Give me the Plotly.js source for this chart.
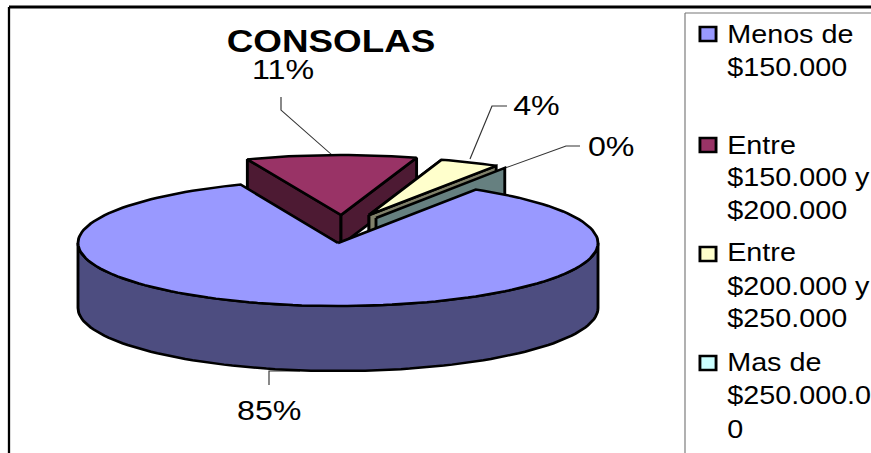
<!DOCTYPE html>
<html>
<head>
<meta charset="utf-8">
<script src="https://cdn.plot.ly/plotly-3.0.1.min.js"></script>
<style>
  html, body { margin: 0; padding: 0; background: #fff; overflow: hidden; }
  /* The whole drawing is widened a little, text included */
  #chart { width: 757px; height: 453px; transform: scaleX(1.1506); transform-origin: 0 0; }
</style>
</head>
<body>
<div id="chart"></div>
<script>
// Price bands and their share of console sales, in percent
const categories = ["Menos de $150.000", "Entre $150.000 y $200.000", "Entre $200.000 y $250.000", "Mas de $250.000.00"];
const shares = [85, 11, 4, 0];
const legendLines = [["Menos de", "$150.000"], ["Entre", "$150.000 y", "$200.000"], ["Entre", "$200.000 y", "$250.000"], ["Mas de", "$250.000.0", "0"]];
const topColours = ["#9999ff", "#993366", "#ffffcc", "#ccffff"];
const wallColours = ["#4d4d80", "#4d1a33", "#80806a", "#668080"];

const FONT = '"Liberation Sans", Arial, sans-serif';
const START_ANGLE = 32;   // first slice begins this many degrees clockwise from the back

// Where each slice sits once pulled out of the pie
const placement = [
  { cx: 338, cy: 243, rx: 260, ry: 63, depth: 65 },
  { cx: 341, cy: 215, rx: 250, ry: 60, depth: 30 },
  { cx: 369, cy: 215, rx: 240, ry: 58, depth: 30 },
  { cx: 376, cy: 218, rx: 243, ry: 59, depth: 30 }
];

// Slice boundaries in degrees, accumulated from the shares
const total = shares.reduce((a, b) => a + b, 0);
let running = START_ANGLE;
const spans = shares.map(s => {
  const from = running;
  running += s / total * 360;
  return [from, running];
});

function rimPoint(p, deg, drop) {
  const t = deg * Math.PI / 180;
  return [p.cx + p.rx * Math.sin(t), p.cy - p.ry * Math.cos(t) + (drop || 0)];
}
function arc(p, a, b, drop) {
  const n = Math.max(2, Math.ceil(Math.abs(b - a) / 2));
  const out = [];
  for (let i = 0; i <= n; i++) out.push(rimPoint(p, a + (b - a) * i / n, drop));
  return out;
}
function polygon(points, fill) {
  const pts = points.concat([points[0]]);
  return {
    type: "scatter", mode: "lines", x: pts.map(q => q[0]), y: pts.map(q => q[1]),
    fill: "toself", fillcolor: fill, line: { color: "#000", width: 2.5 },
    hoverinfo: "skip", showlegend: false
  };
}
function topFace(i) {
  const p = placement[i];
  return polygon([[p.cx, p.cy]].concat(arc(p, spans[i][0], spans[i][1])), topColours[i]);
}
function cutWall(i, deg) {
  const p = placement[i];
  const rim = rimPoint(p, deg), low = rimPoint(p, deg, p.depth);
  return polygon([[p.cx, p.cy], rim, low, [p.cx, p.cy + p.depth]], wallColours[i]);
}
function frontWall(i, a, b) {
  const p = placement[i];
  return polygon(arc(p, a, b).concat(arc(p, b, a, p.depth)), wallColours[i]);
}

// Painted back to front
const traces = [
  cutWall(1, spans[1][0]), cutWall(1, spans[1][1]), topFace(1),
  cutWall(2, spans[2][0]), cutWall(2, spans[2][1]),
  cutWall(3, spans[3][1]), topFace(2),
  frontWall(0, 90, 270), topFace(0)
];

// Legend keys
const keyY = [34, 145, 254, 363];
traces.push({
  type: "scatter", mode: "markers", x: keyY.map(() => 708), y: keyY,
  marker: { symbol: "square", size: 14, color: topColours, line: { color: "#000", width: 2.5 } },
  text: categories, hoverinfo: "text", showlegend: false
});

const annotations = [];
function label(text, x, y, size, anchor, bold) {
  annotations.push({
    x, y, xref: "x", yref: "y", text: bold ? "<b>" + text + "</b>" : text, showarrow: false,
    xanchor: anchor, yanchor: "middle", font: { family: FONT, size, color: "#000" }
  });
}
label("CONSOLAS", 331, 41, 32, "center", true);
const labelSpots = [[269, 410], [283, 69], [536, 105], [611, 146]];
shares.forEach((s, i) => label(s + "%", labelSpots[i][0], labelSpots[i][1], 28, "center"));
const lineY = [[34, 67], [145, 177, 210], [252, 286, 318], [362, 395, 429]];
legendLines.forEach((lines, i) => lines.forEach((t, j) => label(t, 725, lineY[i][j], 25, "left")));

// Leader lines from the labels to the slices
const leaders = [
  [[269, 385], [269, 371], [300, 371]],
  [[281, 97], [281, 110], [332, 155]],
  [[507, 106], [492, 106], [470, 159]],
  [[580, 146], [566, 146], [505, 168]]
];
const shapes = leaders.map(l => ({
  type: "path", xref: "x", yref: "y", layer: "below",
  path: "M" + l.map(q => q.join(",")).join("L"),
  line: { color: "#333", width: 1 }
}));
const frame = (x0, y0, x1, y1, color, width) => ({ type: "line", xref: "x", yref: "y", x0, y0, x1, y1, line: { color, width } });
shapes.push(frame(9, 7, 871, 7, "#000", 3));
shapes.push(frame(9, 7, 9, 453, "#000", 2));
shapes.push(frame(685, 13, 871, 13, "#777", 1));
shapes.push(frame(685, 13, 685, 453, "#777", 1));

Plotly.newPlot("chart", traces, {
  width: 757, height: 453, margin: { l: 0, r: 0, t: 0, b: 0 },
  paper_bgcolor: "#fff", plot_bgcolor: "#fff", showlegend: false,
  xaxis: { range: [0, 871], visible: false, fixedrange: true },
  yaxis: { range: [453, 0], visible: false, fixedrange: true },
  annotations, shapes
}, { displayModeBar: false, staticPlot: true });
</script>
</body>
</html>
